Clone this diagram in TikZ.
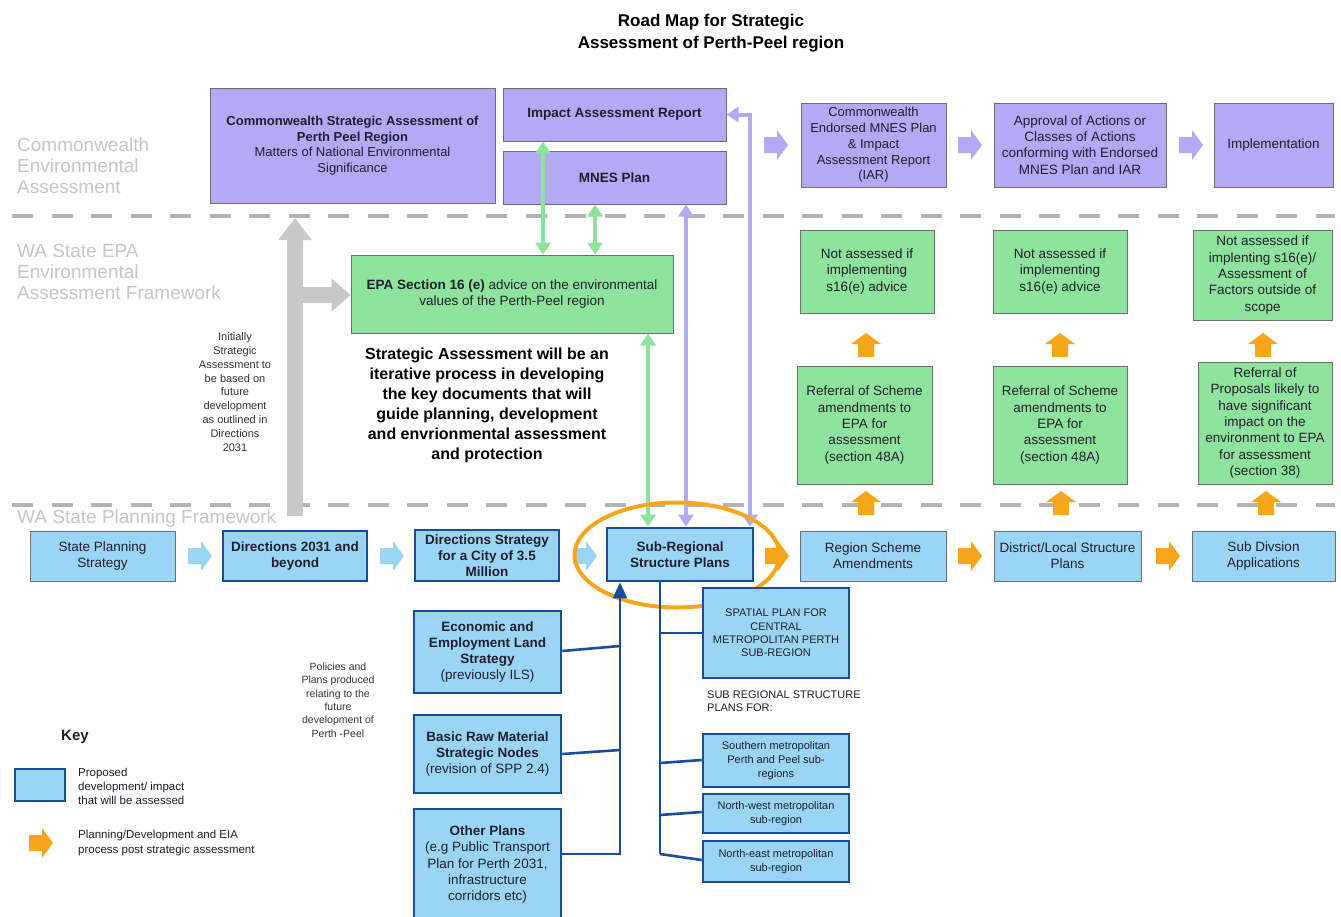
\documentclass[tikz,border=0pt]{standalone}
\usepackage{fontspec}
\setmainfont{Liberation Sans}
\usetikzlibrary{arrows.meta,shapes.geometric}
\definecolor{purp}{HTML}{B2AAF6}
\definecolor{grn}{HTML}{8EE49C}
\definecolor{lblue}{HTML}{9AD5F6}
\definecolor{dblue}{HTML}{1B4C9C}
\definecolor{orng}{HTML}{F7A61C}
\definecolor{lgray}{HTML}{C6C6C6}
\definecolor{bord}{HTML}{6E6E6E}
\definecolor{txt}{HTML}{1E1E2E}
\definecolor{arrgray}{HTML}{C8C8C8}
\definecolor{sepgray}{HTML}{B3B3B3}
\newcommand\fsz[2]{\fontsize{#1}{#2}\selectfont}
\newcommand\blockarrow[4]{%
  \fill[#1, shift={(#2,#3)}, rotate=#4] (-12,-8) -- (1,-8) -- (1,-15) -- (12,0) -- (1,15) -- (1,8) -- (-12,8) -- cycle;}
\tikzset{
  base/.style={align=center, inner sep=0pt, text=txt, font=\fsz{13.5}{16.3}},
  pbox/.style={base, draw=bord, line width=1pt, fill=purp},
  gbox/.style={base, draw=bord, line width=1pt, fill=grn},
  bbox/.style={base, draw=bord, line width=1pt, fill=lblue},
  dbox/.style={base, draw=dblue, line width=2.6pt, fill=lblue},
  sepline/.style={draw=sepgray, line width=3.5pt, dash pattern=on 21pt off 18.5pt},
  lab/.style={anchor=west, align=left, inner sep=0pt, text=lgray, font=\fsz{19}{21}},
  garr/.style={draw=grn, line width=4pt, {Triangle[width=15pt,length=12pt]}-{Triangle[width=15pt,length=12pt]}},
  parr/.style={draw=purp, line width=4pt, {Triangle[width=15pt,length=12pt]}-{Triangle[width=15pt,length=12pt]}},
  dline/.style={draw=dblue, line width=2.6pt},
  small/.style={align=center, inner sep=0pt, text=black!80},
}
\begin{document}
\begin{tikzpicture}[x=1pt,y=-1pt]
\useasboundingbox (0,0) rectangle (1341,916);
\fill[white] (0,0) rectangle (1341,916);

% separators
\draw[sepline] (12,216) -- (1335,216);
\draw[sepline] (12,505) -- (1335,505);

% title
\node[align=center, inner sep=0pt, font=\fsz{17}{21.5}\bfseries] (title) at (711,33) {Road Map for Strategic\\Assessment of Perth-Peel region};

% row labels
\node[lab] (labA) at (17,166) {Commonwealth\\Environmental\\Assessment};
\node[lab] (labB) at (17,271.5) {WA State EPA\\Environmental\\Assessment Framework};
\node[lab] (labC) at (17,519) {WA State Planning Framework};

% Commonwealth row
\node[pbox, font=\fsz{13}{15.5}, minimum width=285pt, minimum height=115pt] (csa) at (352.5,145.5)
 {\textbf{Commonwealth Strategic Assessment of}\\\textbf{Perth Peel Region}\\Matters of National Environmental\\Significance};
\node[pbox, font=\fsz{13.5}{16}\bfseries, minimum width=223pt, minimum height=53pt] (iar) at (614.5,114.5) {Impact Assessment Report};
\node[pbox, font=\fsz{13.5}{16}\bfseries, minimum width=223pt, minimum height=53pt] (mnes) at (614.5,177.5) {MNES Plan};
\node[pbox, font=\fsz{13}{15.8}, minimum width=145pt, minimum height=84pt] (ce) at (873.5,145)
 {Commonwealth\\Endorsed MNES Plan\\\& Impact\\Assessment Report\\(IAR)};
\node[pbox, minimum width=172pt, minimum height=84pt] (appr) at (1080,145)
 {Approval of Actions or\\Classes of Actions\\conforming with Endorsed\\MNES Plan and IAR};
\node[pbox, minimum width=119pt, minimum height=84pt] (impl) at (1273.5,145) {Implementation};
\blockarrow{purp}{776}{145}{0}
\blockarrow{purp}{970}{145}{0}
\blockarrow{purp}{1191}{145}{0}

% EPA row
\node[gbox, font=\fsz{13.5}{16.5}, minimum width=322pt, minimum height=78pt] (epa) at (512,294)
 {\textbf{EPA Section 16 (e)} advice on the environmental\\values of the Perth-Peel region};
\node[gbox, minimum width=134pt, minimum height=83pt] (na1) at (867,271.5) {Not assessed if\\implementing\\s16(e) advice};
\node[gbox, minimum width=134pt, minimum height=83pt] (na2) at (1060,271.5) {Not assessed if\\implementing\\s16(e) advice};
\node[gbox, minimum width=139pt, minimum height=90pt] (na3) at (1262.5,275) {Not assessed if\\implenting s16(e)/\\Assessment of\\Factors outside of\\scope};
\node[gbox, minimum width=135pt, minimum height=118pt] (rf1) at (864.5,425) {Referral of Scheme\\amendments to\\EPA for\\assessment\\(section 48A)};
\node[gbox, minimum width=134pt, minimum height=118pt] (rf2) at (1060,425) {Referral of Scheme\\amendments to\\EPA for\\assessment\\(section 48A)};
\node[gbox, minimum width=134pt, minimum height=122pt] (rf3) at (1265,423) {Referral of\\Proposals likely to\\have significant\\impact on the\\environment to EPA\\for assessment\\(section 38)};
\blockarrow{orng}{866}{345}{90}
\blockarrow{orng}{1060}{345}{90}
\blockarrow{orng}{1263}{345}{90}
\blockarrow{orng}{866}{503}{90}
\blockarrow{orng}{1061}{503}{90}
\blockarrow{orng}{1266}{503}{90}

\node[align=center, inner sep=0pt, font=\fsz{16}{20}\bfseries] (note) at (487,405)
 {Strategic Assessment will be an\\iterative process in developing\\the key documents that will\\guide planning, development\\and envrionmental assessment\\and protection};
\node[small, font=\fsz{11}{13.8}] (init) at (235,392)
 {Initially\\Strategic\\Assessment to\\be based on\\future\\development\\as outlined in\\Directions\\2031};

% grey arrows
\coordinate (gbot) at (295,516);
\coordinate (gtop) at (295,218);
\coordinate (gmid) at (303,295);
\draw[draw=arrgray, line width=16pt, -{Triangle[width=32pt,length=22pt]}] (gbot) -- (gtop);
\draw[draw=arrgray, line width=16pt, -{Triangle[width=32pt,length=19pt]}] (gmid) -- (epa.west |- gmid);

% planning row
\node[bbox, minimum width=145pt, minimum height=50pt] (sps) at (102.5,556) {State Planning\\Strategy};
\node[dbox, font=\fsz{13.5}{16.5}\bfseries, minimum width=144pt, minimum height=50pt] (d2031) at (295,556) {Directions 2031 and\\beyond};
\node[dbox, font=\fsz{13.5}{16}\bfseries, minimum width=144pt, minimum height=51pt] (dstr) at (487,555.5) {Directions Strategy\\for a City of 3.5\\Million};
\node[dbox, font=\fsz{13.5}{16.5}\bfseries, minimum width=146pt, minimum height=53pt] (subreg) at (680,554.5) {Sub-Regional\\Structure Plans};
\node[bbox, minimum width=146pt, minimum height=50pt] (rsa) at (873,556) {Region Scheme\\Amendments};
\node[bbox, minimum width=147pt, minimum height=50pt] (dls) at (1067.5,556) {District/Local Structure\\Plans};
\node[bbox, minimum width=143pt, minimum height=50pt] (sda) at (1263.5,556) {Sub Divsion\\Applications};
\blockarrow{lblue}{200}{556}{0}
\blockarrow{lblue}{392}{556}{0}
\blockarrow{lblue}{585}{556}{0}
\blockarrow{orng}{777}{556}{0}
\blockarrow{orng}{970}{556}{0}
\blockarrow{orng}{1168}{556}{0}

% green / purple links
\draw[garr] (iar.south -| 543,0) -- (epa.north -| 543,0);
\draw[garr] (mnes.south -| 595,0) -- (epa.north -| 595,0);
\draw[garr] (epa.south -| 648,0) -- (subreg.north -| 648,0);
\draw[parr] (mnes.south -| 686,0) -- (subreg.north -| 686,0);
\draw[parr] (subreg.north -| 750,0) |- (iar.east);

\node[ellipse, draw=orng, line width=4pt, minimum width=205pt, minimum height=105pt, inner sep=0pt] (ring) at (677,555) {};

% lower plans
\node[dbox, minimum width=147pt, minimum height=82pt] (eel) at (487.5,652)
 {\textbf{Economic and}\\\textbf{Employment Land}\\\textbf{Strategy}\\(previously ILS)};
\node[dbox, minimum width=147pt, minimum height=78pt] (brm) at (487.5,754)
 {\textbf{Basic Raw Material}\\\textbf{Strategic Nodes}\\(revision of SPP 2.4)};
\node[dbox, minimum width=147pt, minimum height=111pt] (oth) at (487.5,864.5)
 {\textbf{Other Plans}\\(e.g Public Transport\\Plan for Perth 2031,\\infrastructure\\corridors etc)};
\node[small, font=\fsz{10.5}{13.4}] (pol) at (338,700)
 {Policies and\\Plans produced\\relating to the\\future\\development of\\Perth -Peel};

\node[dbox, font=\fsz{11}{13.3}, minimum width=146pt, minimum height=90pt] (sp) at (776,633)
 {SPATIAL PLAN FOR\\CENTRAL\\METROPOLITAN PERTH\\SUB-REGION};
\node[anchor=west, align=left, inner sep=0pt, text=txt, font=\fsz{11}{12.5}] (srsp) at (707,701)
 {SUB REGIONAL STRUCTURE\\PLANS FOR:};
\node[dbox, font=\fsz{11}{14}, minimum width=146pt, minimum height=53pt] (sth) at (776,760.5)
 {Southern metropolitan\\Perth and Peel sub-\\regions};
\node[dbox, font=\fsz{11}{13.5}, minimum width=146pt, minimum height=39pt] (nw) at (776,813.5)
 {North-west metropolitan\\sub-region};
\node[dbox, font=\fsz{11}{13.5}, minimum width=146pt, minimum height=41pt] (ne) at (776,861.5)
 {North-east metropolitan\\sub-region};

% dark blue tree
\coordinate (j1) at (620,646);
\coordinate (j2) at (620,750);
\draw[dline, -{Triangle[width=14pt,length=16pt]}] (oth.east |- 0,854) -| (subreg.south -| 620,0);
\draw[dline] (eel.east |- 0,651) -- (j1);
\draw[dline] (brm.east |- 0,754) -- (j2);
\coordinate (r0) at (660,633);
\coordinate (r1) at (660,763);
\coordinate (r2) at (660,815);
\coordinate (r3) at (660,854);
\draw[dline] (subreg.south -| 660,0) -- (r3);
\draw[dline] (r0) -- (sp.west);
\draw[dline] (r1) -- (sth.west |- 0,760);
\draw[dline] (r2) -- (nw.west |- 0,812);
\draw[dline] (r3) -- (ne.west |- 0,860);

% key
\node[inner sep=0pt, font=\fsz{15}{18}\bfseries, text=txt] (keyt) at (75,737) {Key};
\node[dbox, minimum width=50pt, minimum height=32pt] (keybox) at (40,785) {};
\node[anchor=west, align=left, inner sep=0pt, text=txt, font=\fsz{11.5}{14}] (keyA) at (78,786)
 {Proposed\\development/ impact\\that will be assessed};
\blockarrow{orng}{41}{843}{0}
\node[anchor=west, align=left, inner sep=0pt, text=txt, font=\fsz{11.5}{15}] (keyB) at (78,843.5)
 {Planning/Development and EIA\\process post strategic assessment};
\end{tikzpicture}
\end{document}
